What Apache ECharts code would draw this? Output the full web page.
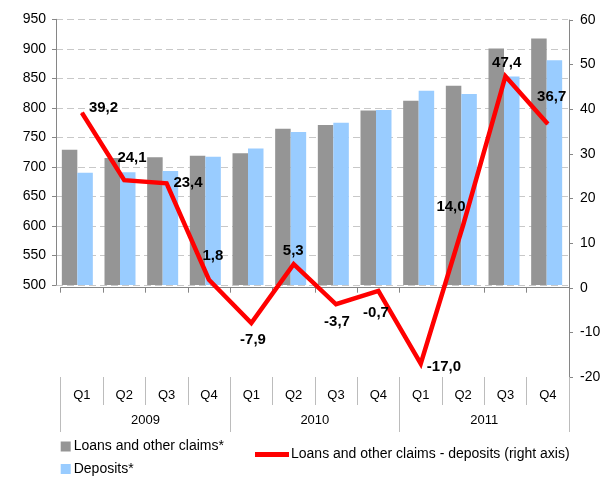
<!DOCTYPE html>
<html>
<head>
<meta charset="utf-8">
<script src="https://cdn.jsdelivr.net/npm/echarts@6/dist/echarts.min.js"></script>
<style>
html,body{margin:0;padding:0;background:#fff;}
#c{width:611px;height:477px;}
</style>
</head>
<body>
<div id="c"></div>
<script>
var quarters = ['Q1','Q2','Q3','Q4','Q1','Q2','Q3','Q4','Q1','Q2','Q3','Q4'];
var years = ['2009','2010','2011'];
var loans = [729, 715, 716.5, 718.8, 723, 764.6, 771, 795.5, 812, 837.5, 900.5, 917.5];
var deposits = [690, 691, 693.1, 717, 731, 759.3, 774.7, 796.2, 829, 823.5, 853.1, 880.8];
var difference = [39.2, 24.1, 23.4, 1.8, -7.9, 5.3, -3.7, -0.7, -17.0, 14.0, 47.4, 36.7];
var leftTicks = {min: 500, max: 950, interval: 50};
var rightTicks = {min: -20, max: 60, interval: 10};
var seriesNames = ['Loans and other claims*', 'Deposits*', 'Loans and other claims - deposits (right axis)'];

// label offsets (styling): label centre relative to point
var labelOffsets = [[21.6,-5.3],[7.8,-22.7],[21.4,-0.8],[4,-23.7],[1.7,17.1],[-0.4,-13],[1,17.8],[-2.4,22.2],[23.2,3.1],[-12.1,-18.9],[1.2,-13.7],[3.9,-26.9]];

var font = 'Liberation Sans, Arial, sans-serif';
var axisGray = '#868686';
var tableGray = '#bcbcbc';

var lineData = difference.map(function(v, i){
  return {value: v, label: {offset: labelOffsets[i]}};
});

var legendText = {fontSize: 14, color: '#000', fontFamily: font, padding: [0,0,0,-2]};

var chart = echarts.init(document.getElementById('c'), null, {renderer: 'canvas'});
chart.setOption({
  animation: false,
  backgroundColor: '#ffffff',
  textStyle: {fontFamily: font},
  grid: [
    {left: 56, width: 512, top: 19.3, height: 265.7},
    {left: 60.7, width: 508.3, top: 20, height: 357},
    {left: 60.7, width: 508.3, top: 287.7, height: 89.3}
  ],
  xAxis: [
    {gridIndex: 0, type: 'category', data: quarters, show: false},
    {gridIndex: 1, type: 'category', data: quarters, show: false},
    {gridIndex: 2, type: 'category', data: quarters, position: 'top',
      axisLine: {show: true, onZero: false, lineStyle: {color: axisGray, width: 1}},
      axisTick: {show: true, inside: true, length: 5, interval: 0, lineStyle: {color: axisGray}},
      axisLabel: {show: false}, splitLine: {show: false}},
    {gridIndex: 2, type: 'category', data: quarters, position: 'bottom',
      axisLine: {show: false, onZero: false},
      axisTick: {show: true, inside: false, length: 28, interval: 0, lineStyle: {color: tableGray}},
      axisLabel: {show: true, interval: 0, margin: 12, fontSize: 13, color: '#000', fontFamily: font},
      splitLine: {show: false}},
    {gridIndex: 2, type: 'category', data: years, position: 'bottom',
      axisLine: {show: false, onZero: false},
      axisTick: {show: true, inside: false, length: 55, interval: 0, lineStyle: {color: tableGray}},
      axisLabel: {show: true, interval: 0, margin: 37, fontSize: 13, color: '#000', fontFamily: font},
      splitLine: {show: false}}
  ],
  yAxis: [
    {gridIndex: 0, type: 'value', position: 'left', min: leftTicks.min, max: leftTicks.max, interval: leftTicks.interval,
      axisLine: {show: true, lineStyle: {color: axisGray}},
      axisTick: {show: true, length: 4, lineStyle: {color: axisGray}},
      axisLabel: {margin: 10, fontSize: 14, color: '#000', fontFamily: font},
      splitLine: {show: true, lineStyle: {color: '#c8c8c8', type: [7, 4], width: 1}}},
    {gridIndex: 1, type: 'value', position: 'right', min: rightTicks.min, max: rightTicks.max, interval: rightTicks.interval,
      axisLine: {show: true, lineStyle: {color: axisGray}},
      axisTick: {show: true, length: 4, lineStyle: {color: axisGray}},
      axisLabel: {margin: 11, fontSize: 14, color: '#000', fontFamily: font},
      splitLine: {show: false}},
    {gridIndex: 2, type: 'value', show: false}
  ],
  legend: [
    {data: [{name: seriesNames[0]}], left: 60.7, top: 439.5, padding: 0,
      itemWidth: 10, itemHeight: 10, icon: 'rect', textStyle: legendText},
    {data: [{name: seriesNames[1]}], left: 60.7, top: 462, padding: 0,
      itemWidth: 10, itemHeight: 10, icon: 'rect', textStyle: legendText},
    {data: [{name: seriesNames[2], icon: 'rect'}], left: 255, top: 447.5, padding: 0,
      itemWidth: 34, itemHeight: 5,
      textStyle: {fontSize: 14, color: '#000', fontFamily: font, padding: [0,0,0,-3]}}
  ],
  series: [
    {name: seriesNames[0], type: 'bar', xAxisIndex: 0, yAxisIndex: 0, data: loans,
      barWidth: 15.5, barGap: '0%', itemStyle: {color: '#959595'}},
    {name: seriesNames[1], type: 'bar', xAxisIndex: 0, yAxisIndex: 0, data: deposits,
      barWidth: 15.5, barGap: '0%', itemStyle: {color: '#99ccff'}},
    {name: seriesNames[2], type: 'line', xAxisIndex: 1, yAxisIndex: 1, data: lineData,
      symbol: 'circle', symbolSize: 1, showSymbol: true,
      itemStyle: {color: '#ff0000'},
      lineStyle: {color: '#ff0000', width: 4.5, join: 'miter'},
      label: {show: true, position: 'inside', fontSize: 15, fontWeight: 'bold', color: '#000', fontFamily: font,
        formatter: function(p){ return p.value.toFixed(1).replace('.', ','); }},
      z: 5}
  ]
});
</script>
</body>
</html>
